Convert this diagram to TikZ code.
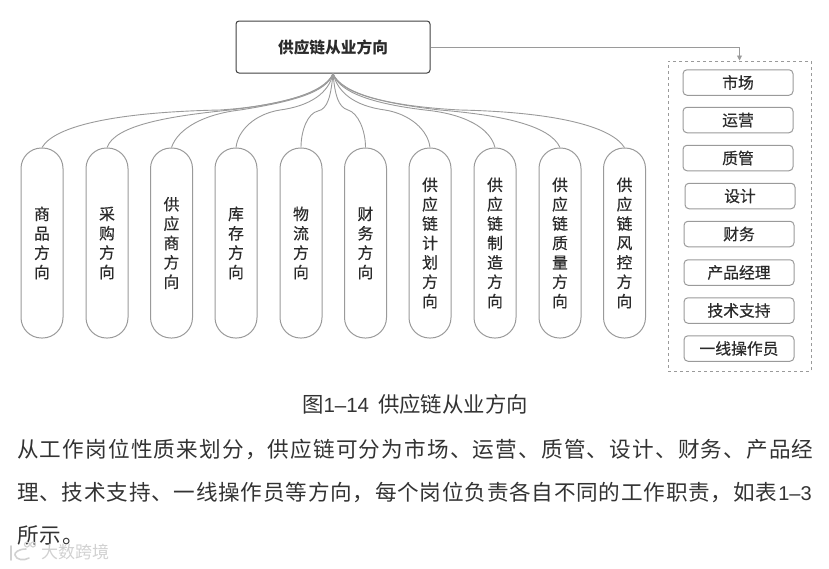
\documentclass[tikz,border=0pt]{standalone}
\usepackage{fontspec}
\setmainfont{Noto Sans CJK SC}
\newfontfamily\medcjk[FakeBold=0.5]{Noto Sans CJK SC}
\newfontfamily\latinfig{Liberation Sans}
\usetikzlibrary{arrows.meta}
\definecolor{txt}{HTML}{2B2B2B}
\definecolor{edge}{HTML}{9A9A9A}
\definecolor{body}{HTML}{333333}
\tikzset{
  pill/.style={draw=edge,line width=1pt,rounded corners=20.5pt,minimum width=42pt,minimum height=190pt,inner sep=0pt,align=center,text=txt,font=\fontsize{15.8}{19.4}\selectfont\medcjk},
  role/.style={draw=edge,line width=1pt,rounded corners=4pt,minimum width=110pt,minimum height=25.5pt,inner sep=0pt,text=txt,font=\fontsize{15.8}{18}\selectfont\medcjk},
  tree/.style={draw=edge,line width=.9pt},
  bodyline/.style={anchor=base west,inner sep=0pt,text=body,font=\fontsize{21.6}{26}\selectfont\addfontfeature{LetterSpace=5.5}},
  wmline/.style={black!18,line width=1.6pt,line cap=round}
}
\begin{document}
\begin{tikzpicture}[x=1pt,y=-1pt]
\useasboundingbox (0,0) rectangle (829,568);
\node[draw=black!75,line width=1pt,rounded corners=3pt,minimum width=194pt,minimum height=52pt,inner sep=0pt,text=txt,font=\fontsize{15.7}{18}\selectfont\bfseries] (main) at (333,47) {供应链从业方向};
\node[pill] (p1) at (42,243) {商\\品\\方\\向};
\node[pill] (p2) at (107,243) {采\\购\\方\\向};
\node[pill] (p3) at (171.5,243) {供\\应\\商\\方\\向};
\node[pill] (p4) at (236,243) {库\\存\\方\\向};
\node[pill] (p5) at (301,243) {物\\流\\方\\向};
\node[pill] (p6) at (365.5,243) {财\\务\\方\\向};
\node[pill] (p7) at (430,243) {供\\应\\链\\计\\划\\方\\向};
\node[pill] (p8) at (495,243) {供\\应\\链\\制\\造\\方\\向};
\node[pill] (p9) at (560,243) {供\\应\\链\\质\\量\\方\\向};
\node[pill] (p10) at (624.5,243) {供\\应\\链\\风\\控\\方\\向};
\node[draw=edge,line width=1pt,dashed,minimum width=143pt,minimum height=310pt,inner sep=0pt] (grp) at (739.5,216) {};
\node[role] (r1) at (738,82.5) {市场};
\node[role] (r2) at (738,120) {运营};
\node[role] (r3) at (738,158) {质管};
\node[role] (r4) at (740,196) {设计};
\node[role] (r5) at (739,234) {财务};
\node[role] (r6) at (739,272.5) {产品经理};
\node[role] (r7) at (739,310.5) {技术支持};
\node[role] (r8) at (739,348.5) {一线操作员};
\draw[tree] (main.south) .. controls (325,93) and (280,106) .. (220,110) .. controls (120,112) and (55,125) .. (p1.north);
\draw[tree] (main.south) .. controls (326,93) and (285,103) .. (230,110) .. controls (170,116) and (115,125) .. (p2.north);
\draw[tree] (main.south) .. controls (327,93) and (290,102) .. (240,110) .. controls (205,114) and (178,128) .. (p3.north);
\draw[tree] (main.south) .. controls (329,93) and (310,106) .. (280,110) .. controls (255,114) and (238,130) .. (p4.north);
\draw[tree] (main.south) .. controls (331,95) and (328,109) .. (318,111) .. controls (308,113) and (301,130) .. (p5.north);
\draw[tree] (main.south) .. controls (335,95) and (338,107) .. (348,110) .. controls (358,113) and (365.5,130) .. (p6.north);
\draw[tree] (main.south) .. controls (338,93) and (355,106) .. (385,110) .. controls (410,114) and (428,130) .. (p7.north);
\draw[tree] (main.south) .. controls (339,93) and (375,104) .. (425,110) .. controls (465,114) and (490,128) .. (p8.north);
\draw[tree] (main.south) .. controls (340,93) and (380,103) .. (440,110) .. controls (500,115) and (550,125) .. (p9.north);
\draw[tree] (main.south) .. controls (341,93) and (385,106) .. (460,110) .. controls (550,112) and (610,125) .. (p10.north);
\draw[tree,-{Triangle[length=5pt,width=5pt]}] (main.east) -| (grp.north);
\node[inner sep=0pt,text=body,font=\fontsize{21.4}{24}\selectfont] (cap) at (415,404) {图{\latinfig\fontsize{20.5}{24}\selectfont 1–14}\hspace{9pt}供应链从业方向};
\node[bodyline] (l1) at (17,457) {从工作岗位性质来划分，供应链可分为市场、运营、质管、设计、财务、产品经};
\node[bodyline,font=\fontsize{21.6}{26}\selectfont\addfontfeature{LetterSpace=3.6}] (l2) at (17,500) {理、技术支持、一线操作员等方向，每个岗位负责各自不同的工作职责，如表\hspace{1pt}{\latinfig\fontsize{20}{24}\selectfont 1–3}};
\node[bodyline] (l3) at (17,543) {所示。};
\node[inner sep=0pt,anchor=west,text=black!18,font=\fontsize{17}{20}\selectfont] (wm) at (41,552) {大数跨境};
\draw[wmline] (11,546) -- (11,560);
\draw[wmline] (26,549) .. controls (18,549) and (14,553) .. (15,555) .. controls (16,560) and (24,561) .. (29,558);
\draw[black!18,line width=1.1pt] (27,544.5) circle (2.5) (33,544.5) circle (2.5);
\end{tikzpicture}
\end{document}
